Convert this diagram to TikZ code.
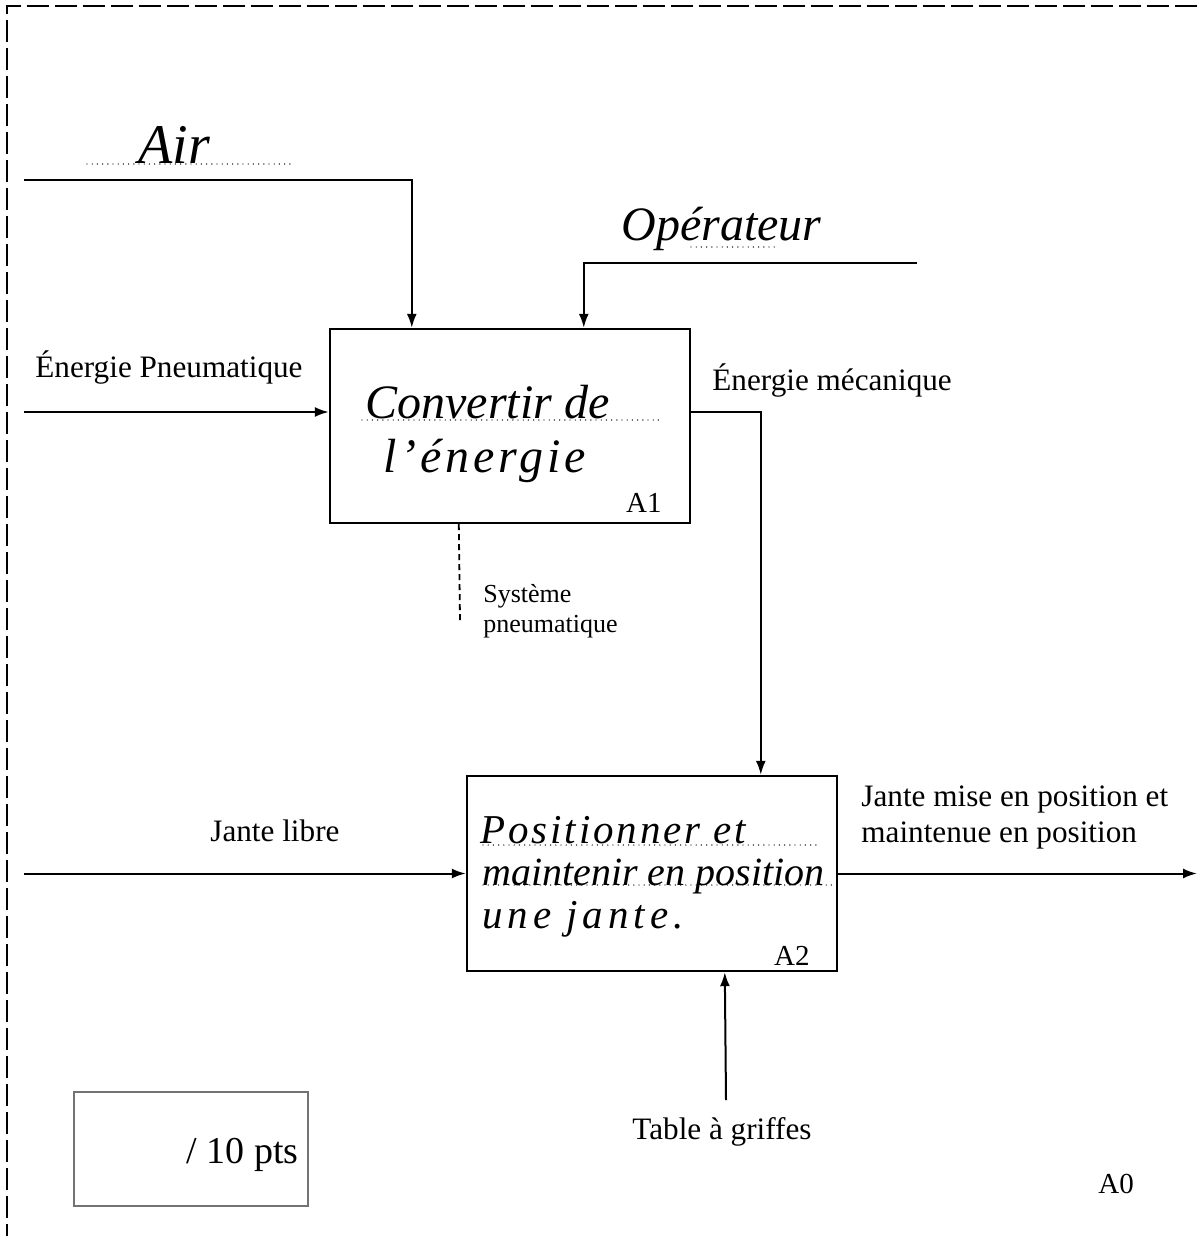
\documentclass[tikz,border=0pt]{standalone}
\usepackage{fontspec}
\setmainfont{Liberation Serif}
\usetikzlibrary{arrows.meta}
\tikzset{
  flowline/.style={line width=1pt},
  arr/.style={flowline,-{Latex[length=7pt,width=5pt]}},
  fbox/.style={draw,line width=1.2pt,inner sep=0pt},
  lbl/.style={inner sep=0pt,font=\fontsize{15.6}{18}\selectfont},
  smalllbl/.style={inner sep=0pt,font=\fontsize{13}{15}\selectfont},
  idx/.style={inner sep=0pt,font=\fontsize{14.5}{17}\selectfont},
  ptslbl/.style={inner sep=0pt,font=\fontsize{19}{22}\selectfont},
  hand/.style={inner sep=0pt,font=\fontsize{24}{28}\selectfont\itshape},
  handsm/.style={inner sep=0pt,font=\fontsize{20.5}{24}\selectfont\itshape\addfontfeature{LetterSpace=7}},
  dotline/.style={line width=0.7pt,line cap=round,dash pattern=on 0pt off 2.6pt},
  border/.style={line width=0.7pt,dash pattern=on 11pt off 3pt},
}
\begin{document}
\begin{tikzpicture}[x=0.5pt,y=-0.5pt]
\useasboundingbox (0,0) rectangle (1197,1236);
% page border
\coordinate (bTL) at (7,6);
\coordinate (bTR) at (1197,6);
\coordinate (bBL) at (7,1236);
\draw[border] (bTR) -- (bTL) -- (bBL);

% boxes
\node[fbox,minimum width=180pt,minimum height=97pt] (A1) at (510,426) {};
\node[fbox,minimum width=185pt,minimum height=97.5pt] (A2) at (652,873.5) {};

% free ends
\coordinate (airS) at (24,180);
\coordinate (opS) at (917,263);
\coordinate (enS) at (24,412);
\coordinate (jlS) at (24,873.5);
\coordinate (outE) at (1197,873.5);
\coordinate (tgS) at (726,1100);
\coordinate (mecE) at (460,620);

% connectors
\draw[arr] (airS) -| ([xshift=41.5pt]A1.north west);
\draw[arr] (opS) -| ([xshift=127.5pt]A1.north west);
\draw[arr] (enS) -- ([yshift=7pt]A1.west);
\draw[arr] ([yshift=7pt]A1.east) -| ([xshift=147.5pt]A2.north west);
\draw[arr] (jlS) -- (A2.west);
\draw[arr] (A2.east) -- (outE);
\draw[arr] (tgS) -- ([xshift=129.5pt]A2.south west);
\draw[line width=0.9pt,dash pattern=on 3pt off 2pt] ([xshift=65pt]A1.south west) -- (mecE);

% printed labels
\node[lbl,anchor=base west] (lEP) at (35,377) {Énergie Pneumatique};
\node[lbl,anchor=base west] (lEM) at (712,390) {Énergie mécanique};
\node[lbl,anchor=base west] (lJL) at (210,841) {Jante libre};
\node[lbl,anchor=base west,align=left] (lJM) at (861,842) {Jante mise en position et\\maintenue en position};
\node[smalllbl,anchor=base west,align=left] (lSP) at (483,632) {Système\\pneumatique};
\node[lbl,anchor=base west] (lTG) at (632,1139) {Table à griffes};
\node[idx,anchor=base east] (nA1) at (662,512) {A1};
\node[idx,anchor=base east] (nA2) at (810,965) {A2};
\node[idx,anchor=base west] (nA0) at (1098,1193) {A0};

% score box
\node[draw=black!55,line width=0.6pt,minimum width=117pt,minimum height=57pt,inner sep=0pt] (scorebox) at (191,1149) {};
\node[ptslbl,anchor=base east] (score) at (299,1163) {/ 10 pts};

% handwritten entries
\draw[dotline] (87,164) -- (295,164);
\node[hand,font=\fontsize{28}{32}\selectfont\itshape,anchor=base west] (hAir) at (138,163) {Air};
\draw[dotline] (691,247) -- (777,247);
\node[hand,anchor=base west] (hOp) at (621,240) {Opérateur};
\draw[dotline] (362,420) -- (660,420);
\node[hand,anchor=base west] (hC1) at (365,418) {Convertir de};
\node[hand,font=\fontsize{24}{28}\selectfont\itshape\addfontfeature{LetterSpace=8},anchor=base west] (hC2) at (383,472) {l'énergie};
\draw[dotline] (483,845) -- (820,845);
\draw[dotline] (483,885) -- (835,885);
\node[handsm,anchor=base west] (hP1) at (480,843) {Positionner et};
\node[handsm,font=\fontsize{20}{24}\selectfont\itshape,anchor=base west] (hP2) at (482,885) {maintenir en position};
\node[handsm,font=\fontsize{20.5}{24}\selectfont\itshape\addfontfeature{LetterSpace=12},anchor=base west] (hP3) at (482,928) {une jante.};
\end{tikzpicture}
\end{document}
